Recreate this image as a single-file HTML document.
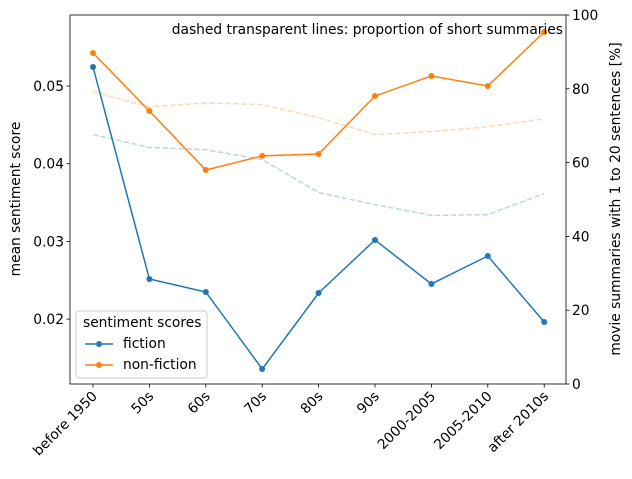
<!DOCTYPE html>
<html><head><meta charset="utf-8"><style>
body{margin:0;background:#fff;font-family:"Liberation Sans","DejaVu Sans",sans-serif}
svg text{font-family:"DejaVu Sans","Liberation Sans",sans-serif;font-size:13.8px;fill:#000}
</style></head><body>
<svg id="chart" width="632" height="474">
<rect x="0" y="0" width="632" height="474" fill="#fff"/>
</svg>
<script>
const categories=["before 1950","50s","60s","70s","80s","90s","2000-2005","2005-2010","after 2010s"];
const fiction=[0.05245,0.02516,0.02349,0.01358,0.02336,0.03018,0.02452,0.02812,0.01963];
const nonFiction=[0.05425,0.04678,0.03919,0.041,0.04125,0.04871,0.05129,0.05,0.05695];
const shortFiction=[67.6,64.1,63.5,60.8,51.9,48.6,45.7,45.9,51.6];
const shortNonFiction=[79.2,75.1,76.2,75.7,72.2,67.6,68.4,69.7,71.9];
const leftTicks=[0.02,0.03,0.04,0.05];
const rightTicks=[0,20,40,60,80,100];

const svg=document.getElementById('chart');
const NS='http://www.w3.org/2000/svg';
const L=70,R=566,T=15,B=384;
const x=i=>93+i*56.4;
const yl=v=>86-(v-0.05)*7770;
const yr=v=>B-(v/100)*(B-T);
function mk(tag,attrs,parent){const e=document.createElementNS(NS,tag);for(const k in attrs)e.setAttribute(k,attrs[k]);(parent||svg).appendChild(e);return e;}
function txt(s,attrs){const t=mk('text',attrs);t.textContent=s;return t;}

function line(vals,yf,color,opts,name){
  const p=mk('polyline',Object.assign({points:vals.map((v,i)=>x(i)+','+yf(v)).join(' '),fill:'none',stroke:color,'stroke-width':1.5},opts));
  
  
  return p;
}
line(shortFiction,yr,'#1f77b4',{'stroke-dasharray':'5.5,2.4','stroke-opacity':0.3},'short-fiction-line');
line(shortNonFiction,yr,'#ff7f0e',{'stroke-dasharray':'5.5,2.4','stroke-opacity':0.3},'short-nonfiction-line');
line(fiction,yl,'#1f77b4',{},'fiction-line');
line(nonFiction,yl,'#ff7f0e',{},'nonfiction-line');
fiction.forEach((v,i)=>{const c=mk('circle',{cx:x(i),cy:yl(v),r:3,fill:'#1f77b4'});

});
nonFiction.forEach((v,i)=>{const c=mk('circle',{cx:x(i),cy:yl(v),r:3,fill:'#ff7f0e'});

});

mk('rect',{x:L,y:T,width:R-L,height:B-T,fill:'none',stroke:'#000','stroke-width':0.8});
leftTicks.forEach(v=>{const y=yl(v);mk('line',{x1:L-3.5,x2:L,y1:y,y2:y,stroke:'#000','stroke-width':0.8});
const t=txt(v.toFixed(2),{x:L-6,y:y+5,'text-anchor':'end'});

});
rightTicks.forEach(v=>{const y=yr(v);mk('line',{x1:R,x2:R+3.5,y1:y,y2:y,stroke:'#000','stroke-width':0.8});
const t=txt(String(v),{x:R+6,y:y+5,'text-anchor':'start'});

});
categories.forEach((c,i)=>{const X=x(i);mk('line',{x1:X,x2:X,y1:B,y2:B+3.5,stroke:'#000','stroke-width':0.8});
const t=txt(c,{x:X+5,y:B+13,'text-anchor':'end',transform:`rotate(-45 ${X+5} ${B+13})`});

});
let t=txt('mean sentiment score',{x:0,y:0,'text-anchor':'middle',transform:'translate(20,199) rotate(-90)'});

t=txt('movie summaries with 1 to 20 sentences [%]',{x:0,y:0,'text-anchor':'middle',transform:'translate(620,199) rotate(-90)'});

t=txt('dashed transparent lines: proportion of short summaries',{x:563,y:34,'text-anchor':'end'});


const g=mk('g',{});

mk('rect',{x:76,y:311,width:131,height:67,rx:3,fill:'#fff','fill-opacity':0.8,stroke:'#ccc'},g);
const lt=mk('text',{x:83,y:327},g);lt.textContent='sentiment scores';
[['fiction','#1f77b4',348],['non-fiction','#ff7f0e',369]].forEach(([n,c,y])=>{
mk('line',{x1:85,x2:113,y1:y-4,y2:y-4,stroke:c,'stroke-width':1.5},g);
mk('circle',{cx:99,cy:y-4,r:3,fill:c},g);
const e=mk('text',{x:123,y:y},g);e.textContent=n;
});
</script>
</body></html>
